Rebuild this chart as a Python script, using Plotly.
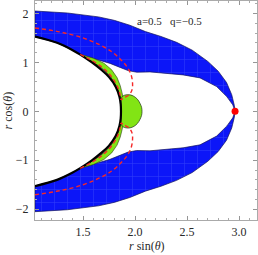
import plotly.graph_objects as go

# ---------------- data (upper halves; curves are symmetric about r cos(theta)=0) -------------
# outer boundary of the blue region
outer_x = [1.038, 1.20, 1.35, 1.50, 1.65, 1.80, 1.95, 2.10, 2.25, 2.40, 2.55, 2.70, 2.80, 2.88, 2.93, 2.955, 2.962]
outer_y = [2.05, 2.03, 2.01, 1.97, 1.93, 1.86, 1.76, 1.63, 1.53, 1.41, 1.25, 1.02, 0.82, 0.59, 0.34, 0.12, 0.0]

# inner boundary of the blue region (from the black curve to the apex)
inner_x = [1.473, 1.567, 1.663, 1.760, 1.856, 1.933, 2.016, 2.144, 2.288, 2.462, 2.625, 2.785, 2.882, 2.940, 2.962]
inner_y = [1.160, 1.095, 1.041, 0.980, 0.898, 0.833, 0.800, 0.806, 0.786, 0.745, 0.684, 0.506, 0.302, 0.133, 0.0]

# thick black curve
black_x = [1.038, 1.25, 1.40, 1.473, 1.585, 1.675, 1.75, 1.815, 1.850, 1.862, 1.865]
black_y = [1.527, 1.40, 1.25, 1.16, 1.00, 0.85, 0.70, 0.50, 0.30, 0.15, 0.0]

# green crescent: outer edge and inner (thin line) edge
cres_out_x = [1.473, 1.60, 1.70, 1.775, 1.827, 1.858, 1.875, 1.885]
cres_out_y = [1.165, 1.085, 0.985, 0.850, 0.690, 0.525, 0.380, 0.276]
cres_in_x = [1.495, 1.600, 1.690, 1.765, 1.818, 1.845, 1.862]
cres_in_y = [1.130, 1.000, 0.860, 0.700, 0.520, 0.380, 0.235]

# green blob outline (upper half, left to right)
blob_x = [1.865, 1.866, 1.870, 1.885, 1.913, 1.952, 1.990, 2.024, 2.048, 2.063, 2.067]
blob_y = [0.0, 0.133, 0.276, 0.316, 0.337, 0.337, 0.306, 0.245, 0.163, 0.082, 0.0]

# red dashed curves
red_out_x = [1.038, 1.279, 1.50, 1.663, 1.779, 1.865, 1.923, 1.962, 1.976, 1.971, 1.942, 1.894, 1.865]
red_out_y = [1.704, 1.622, 1.50, 1.357, 1.214, 1.051, 0.908, 0.745, 0.582, 0.439, 0.337, 0.276, 0.235]
red_in_x = [1.473, 1.58, 1.675, 1.750, 1.805, 1.840, 1.857, 1.865]
red_in_y = [1.165, 1.045, 0.915, 0.770, 0.610, 0.460, 0.330, 0.235]

point_x = [2.962]
point_y = [0.0]

label_text = "a=0.5   q=\u22120.5"
x_ticks = [1.5, 2.0, 2.5, 3.0]
x_tick_text = ["1.5", "2.0", "2.5", "3.0"]
y_ticks = [-2, -1, 0, 1, 2]

# ---------------- helpers -------------------------------------------------
def neg(v):
    return [-a for a in v]

def mirror(xs, ys):
    # curve from upper-left to the axis (y=0) continued into its reflection
    return xs + xs[-2::-1], ys + neg(ys[-2::-1])

# blue region (upper and lower parts)
up_x = outer_x + inner_x[::-1][1:] + black_x[:4][::-1][1:]
up_y = outer_y + inner_y[::-1][1:] + black_y[:4][::-1][1:]
blue_x = up_x + [up_x[0], None] + up_x + [up_x[0]]
blue_y = up_y + [up_y[0], None] + neg(up_y) + [-up_y[0]]

# crescents
cu_x = cres_out_x + cres_in_x[::-1]
cu_y = cres_out_y + cres_in_y[::-1]
cres_x = cu_x + [cu_x[0], None] + cu_x + [cu_x[0]]
cres_y = cu_y + [cu_y[0], None] + neg(cu_y) + [-cu_y[0]]

bx = blob_x + blob_x[::-1][1:]
by = blob_y + neg(blob_y[::-1][1:])

blk_x, blk_y = mirror(black_x, black_y)

SERIF = "Liberation Serif"
BLUE = "rgb(12,22,248)"
GREEN = "rgb(130,228,20)"
RED = "rgb(245,40,40)"

fig = go.Figure()
fig.add_trace(go.Scatter(x=blue_x, y=blue_y, mode="lines", fill="toself",
                         fillcolor=BLUE, line=dict(color="rgb(20,20,90)", width=0.7),
                         fillpattern=dict(shape="+", fgcolor="rgba(150,170,255,0.55)",
                                          bgcolor=BLUE, size=13, solidity=0.08),
                         hoverinfo="skip", showlegend=False))
fig.add_trace(go.Scatter(x=cres_x, y=cres_y, mode="lines", fill="toself",
                         fillcolor=GREEN, line=dict(color="rgb(40,60,20)", width=0.6),
                         hoverinfo="skip", showlegend=False))
fig.add_trace(go.Scatter(x=bx, y=by, mode="lines", fill="toself",
                         fillcolor=GREEN, line=dict(color="rgb(30,50,20)", width=0.7, shape="spline"),
                         hoverinfo="skip", showlegend=False))
# thin line just outside the black curve
tl_x, tl_y = cres_in_x, cres_in_y
fig.add_trace(go.Scatter(x=tl_x + [None] + tl_x, y=tl_y + [None] + neg(tl_y), mode="lines",
                         line=dict(color="rgb(40,40,40)", width=0.7, shape="spline"),
                         hoverinfo="skip", showlegend=False))
fig.add_trace(go.Scatter(x=blk_x, y=blk_y, mode="lines",
                         line=dict(color="black", width=2.2, shape="spline"),
                         hoverinfo="skip", showlegend=False))
fig.add_trace(go.Scatter(x=red_out_x + [None] + red_out_x, y=red_out_y + [None] + neg(red_out_y),
                         mode="lines", line=dict(color=RED, width=1.4, dash="4px,3px", shape="spline"),
                         hoverinfo="skip", showlegend=False))
fig.add_trace(go.Scatter(x=red_in_x + [None] + red_in_x, y=red_in_y + [None] + neg(red_in_y),
                         mode="lines", line=dict(color=RED, width=1.4, dash="4px,3px", shape="spline"),
                         hoverinfo="skip", showlegend=False))
fig.add_trace(go.Scatter(x=point_x, y=point_y, mode="markers",
                         marker=dict(color="red", size=7), hoverinfo="skip", showlegend=False))

axis_common = dict(showgrid=False, zeroline=False, showline=True, linecolor="rgb(170,170,170)",
                   linewidth=1, mirror="ticks", ticks="inside", ticklen=4, tickcolor="rgb(150,150,150)",
                   tickfont=dict(family=SERIF, size=12, color="rgb(40,40,40)"))
fig.update_layout(
    width=258, height=255,
    margin=dict(l=35, r=1, t=1, b=35),
    paper_bgcolor="white", plot_bgcolor="white",
    xaxis=dict(range=[1.038, 3.173], tickvals=x_ticks, ticktext=x_tick_text,
               minor=dict(dtick=0.1, ticks="inside", ticklen=2, tickcolor="rgb(170,170,170)"),
               ticklabelstandoff=1, **axis_common),
    yaxis=dict(range=[-2.22, 2.255], tickvals=y_ticks,
               minor=dict(dtick=0.2, ticks="inside", ticklen=2, tickcolor="rgb(170,170,170)"),
               ticklabelstandoff=3, **axis_common),
    annotations=[
        dict(text=label_text, xref="paper", yref="paper", x=0.761, y=0.944,
             showarrow=False, font=dict(family=SERIF, size=11, color="rgb(40,40,40)")),
        dict(text="<i>r</i> sin(<i>\u03b8</i>)", xref="paper", yref="paper", x=0.505, y=-0.118,
             yanchor="middle", showarrow=False, font=dict(family=SERIF, size=12, color="rgb(40,40,40)")),
        dict(text="<i>r</i> cos(<i>\u03b8</i>)", xref="paper", yref="paper", x=-0.122, y=0.5,
             xanchor="center", yanchor="middle", textangle=-90, showarrow=False,
             font=dict(family=SERIF, size=12, color="rgb(40,40,40)")),
    ],
)
fig.write_html("out.html", config={"displayModeBar": False},
               post_script="document.body.style.margin='0';")
